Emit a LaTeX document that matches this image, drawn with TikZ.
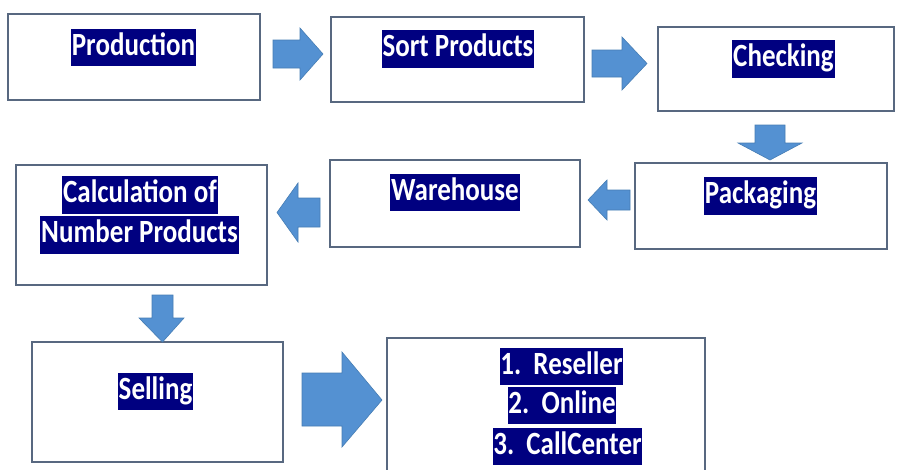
\documentclass[tikz,border=0pt]{standalone}
\usepackage{fontspec}
\setmainfont{Carlito}
\usepackage{graphicx}
\definecolor{boxline}{RGB}{88,104,128}
\definecolor{arrowfill}{RGB}{84,145,210}
\definecolor{arrowline}{RGB}{70,125,180}
\definecolor{hlnavy}{RGB}{0,0,128}
\newcommand{\hltxt}[1]{\scalebox{1}[1.2]{\strut #1}}
\tikzset{
  procbox/.style={draw=boxline, line width=2pt, fill=white, rectangle, inner sep=0pt},
  hl/.style={fill=hlnavy, text=white, inner xsep=0.8pt, inner ysep=0pt,
    font=\bfseries\fontsize{27}{31.5}\selectfont},
  blockarrow/.style={fill=arrowfill, draw=arrowline, line width=0.6pt, line join=miter}
}
\begin{document}
\begin{tikzpicture}[x=1pt,y=-1pt]
\useasboundingbox (0,0) rectangle (897,469);
\fill[white] (0,0) rectangle (897,469);
\clip (0,0) rectangle (897,469);

% boxes
\node[procbox, minimum width=252, minimum height=86] (prod) at (134,57) {};
\node[procbox, minimum width=253, minimum height=85] (sort) at (457.5,59.5) {};
\node[procbox, minimum width=236, minimum height=84] (check) at (776,69) {};
\node[procbox, minimum width=252, minimum height=86] (pack) at (761,206) {};
\node[procbox, minimum width=250, minimum height=87] (ware) at (455,203.5) {};
\node[procbox, minimum width=251, minimum height=120] (calc) at (141.5,225) {};
\node[procbox, minimum width=251, minimum height=120] (sell) at (157.5,402) {};
\node[procbox, minimum width=318, minimum height=150] (result) at (546,413) {};

% labels
\node[hl] (tprod) at (133.5,47.5) {\hltxt{Production}};
\node[hl] (tsort) at (458,49) {\hltxt{Sort Products}};
\node[hl] (tcheck) at (783.5,59) {\hltxt{Checking}};
\node[hl] (tpack) at (760.5,196) {\hltxt{Packaging}};
\node[hl] (tware) at (455,192.5) {\hltxt{Warehouse}};
\node[hl] (tcalcA) at (140,195) {\hltxt{Calculation of}};
\node[hl] (tcalcB) at (139.5,235) {\hltxt{Number Products}};
\node[hl] (tsell) at (155.5,391.5) {\hltxt{Selling}};
\node[hl] (tres) at (561.5,366.5) {\hltxt{1.\ \ Reseller}};
\node[hl] (tonl) at (562,405.5) {\hltxt{2.\ \ Online}};
\node[hl] (tcall) at (567.5,446.5) {\hltxt{3.\ \ CallCenter}};

% block arrows
% production -> sort
\draw[blockarrow] (273,40) -- (300,40) -- (300,28) -- (323,54) -- (300,80) -- (300,68) -- (273,68) -- cycle;
% sort -> checking
\draw[blockarrow] (592,50) -- (622,50) -- (622,37) -- (647,63.5) -- (622,90) -- (622,77) -- (592,77) -- cycle;
% checking -> packaging
\draw[blockarrow] (755,125) -- (785,125) -- (785,143) -- (802,143) -- (770,160) -- (738,143) -- (755,143) -- cycle;
% packaging -> warehouse
\draw[blockarrow] (630,190) -- (607,190) -- (607,180) -- (588,200) -- (607,220) -- (607,210) -- (630,210) -- cycle;
% warehouse -> calculation
\draw[blockarrow] (320,198) -- (298,198) -- (298,183) -- (277,212.5) -- (298,242) -- (298,227) -- (320,227) -- cycle;
% calculation -> selling
\draw[blockarrow] (152,295) -- (173,295) -- (173,318) -- (184,318) -- (162.5,342) -- (139,318) -- (152,318) -- cycle;
% selling -> result
\draw[blockarrow] (302,373) -- (342,373) -- (342,352) -- (382,400) -- (342,447) -- (342,426) -- (302,426) -- cycle;
\end{tikzpicture}
\end{document}
